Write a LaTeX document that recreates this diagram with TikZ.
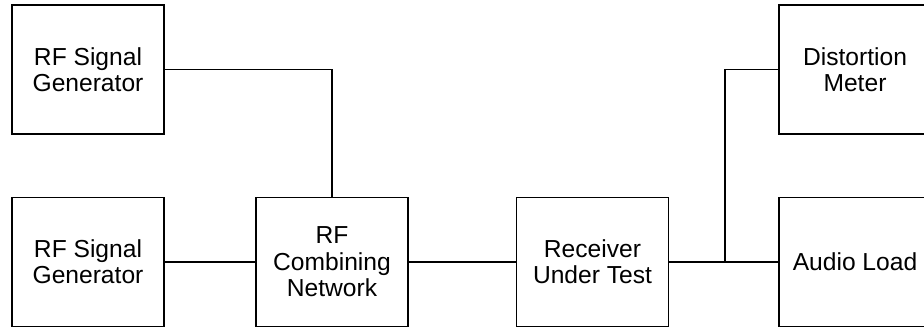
\documentclass[tikz,border=0pt]{standalone}
\usepackage{fontspec}
\setmainfont{Liberation Sans}
\usetikzlibrary{positioning}

\begin{document}
\begin{tikzpicture}[x=0.2mm, y=-0.2mm, node distance=3.85cm]
  \tikzstyle{block}=[draw, line width=0.9pt, minimum width=3.04cm, minimum height=2.58cm, inner sep=0pt, align=center, font=\fontsize{14}{15}\selectfont];
  \useasboundingbox (0,0) rectangle (924,327);
  \clip (0,0) rectangle (924,327);

  \node [block] at (88,262)              (GenB)    {RF Signal\\Generator};
  \node [block, above of= GenB]          (GenA)    {RF Signal\\Generator};
  \node [block] at (332,262)             (Combiner){RF\\Combining\\Network};
  \node [block] at (592.5,262)           (Receiver){Receiver\\Under Test};
  \node [block] at (855,262)             (Load)    {Audio Load};
  \node [block, above of= Load]          (Meter)   {Distortion\\Meter};
  \coordinate (Split) at (725,262);

  \draw[line width=0.6pt] (GenA) -| (Combiner);
  \draw[line width=0.6pt] (GenB) -- (Combiner);
  \draw[line width=0.6pt] (Combiner) -- (Receiver);
  \draw[line width=0.6pt] (Receiver) -- (Split) -- (Load);
  \draw[line width=0.6pt] (Split) |- (Meter);
\end{tikzpicture}
\end{document}
